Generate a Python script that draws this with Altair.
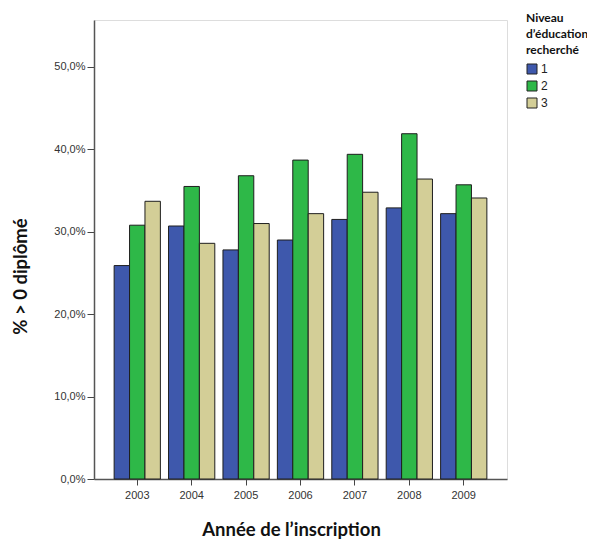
import altair as alt
import pandas as pd

annees = ["2003", "2004", "2005", "2006", "2007", "2008", "2009"]
niveaux = ["1", "2", "3"]
niveau_1 = [0.259, 0.307, 0.278, 0.290, 0.315, 0.329, 0.322]
niveau_2 = [0.308, 0.355, 0.368, 0.387, 0.394, 0.419, 0.357]
niveau_3 = [0.337, 0.286, 0.310, 0.322, 0.348, 0.364, 0.341]
couleurs = ["#3E58AC", "#2EB848", "#D3CE97"]
y_ticks = [0.0, 0.1, 0.2, 0.3, 0.4, 0.5]

rows = []
for niv, vals in zip(niveaux, [niveau_1, niveau_2, niveau_3]):
    for a, v in zip(annees, vals):
        rows.append({"annee": a, "niveau": niv, "valeur": v})
df = pd.DataFrame(rows)

chart = alt.Chart(df).mark_bar(stroke="#1e1e1e", strokeWidth=1).encode(
    x=alt.X(
        "annee:N",
        sort=annees,
        scale=alt.Scale(paddingInner=0.15, paddingOuter=0.37),
        axis=alt.Axis(
            title="Année de l’inscription",
            labelAngle=0,
            labelFont="Liberation Sans",
            labelFontSize=11,
            labelColor="#333333",
            labelPadding=4,
            tickSize=6,
            tickColor="#444444",
            domain=True,
            domainColor="#555555",
            domainWidth=1.5,
            titleFont="Lato",
            titleFontSize=18.5,
            titleFontWeight="bold",
            titleColor="#111111",
            titleX=197,
            titleY=50,
            titleBaseline="middle",
            titleAnchor="middle",
        ),
    ),
    xOffset=alt.XOffset("niveau:N", sort=niveaux, scale=alt.Scale(paddingInner=0, paddingOuter=0)),
    y=alt.Y(
        "valeur:Q",
        scale=alt.Scale(domain=[0, 0.557], nice=False),
        axis=alt.Axis(
            values=y_ticks,
            labelExpr="replace(format(datum.value, '.1%'), '.', ',')",
            grid=False,
            labelFont="Liberation Sans",
            labelFontSize=11,
            labelColor="#333333",
            labelPadding=2,
            tickSize=7,
            tickColor="#444444",
            domain=True,
            domainColor="#555555",
            domainWidth=1.5,
            title="% > 0 diplômé",
            titleFont="Lato",
            titleFontSize=18.5,
            titleFontWeight="bold",
            titleColor="#111111",
            titleAngle=-90,
            titleX=-74,
            titleY=256,
            titleBaseline="middle",
            titleAlign="center",
        ),
    ),
    color=alt.Color(
        "niveau:N",
        sort=niveaux,
        scale=alt.Scale(domain=niveaux, range=couleurs),
        legend=alt.Legend(
            title=["Niveau", "d’éducation", "recherché"],
            orient="none",
            legendX=432,
            legendY=-7,
            titleFont="Lato",
            titleFontSize=12,
            titleFontWeight="bold",
            titleLineHeight=16,
            titleColor="#111111",
            titlePadding=6,
            labelFont="Liberation Sans",
            labelFontSize=12,
            labelColor="#222222",
            labelOffset=3,
            symbolType="square",
            symbolSize=100,
            symbolStrokeColor="#222222",
            symbolStrokeWidth=1,
            rowPadding=3,
        ),
    ),
).properties(
    width=413,
    height=459,
    padding={"left": 86, "top": 12, "right": 80, "bottom": 60},
    autosize="none",
).configure_view(
    fill="#F0F0F0",
    stroke="#555555",
    strokeWidth=1.5,
).configure(background="white")

chart.save("out.html", embed_options={"renderer": "svg", "actions": False})
